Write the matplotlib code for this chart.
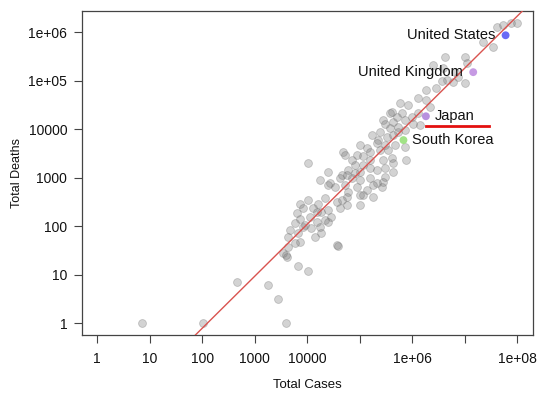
import numpy as np
import matplotlib
matplotlib.use("Agg")
import matplotlib.pyplot as plt

plt.rcParams['font.family'] = ['Liberation Sans', 'DejaVu Sans']

# log10 of total cases and total deaths per country
log_cases = [
    7.61, 7.73, 7.89, 7.99, 7.35, 7.54, 6.62, 7.00, 7.04, 6.40, 6.59, 6.81, 6.88, 6.66, 6.56,
    6.78, 7.00, 6.27, 6.46, 6.11, 6.27, 6.34, 5.77, 5.92, 5.61, 5.80, 5.99, 6.11, 5.45, 5.64,
    5.86, 6.02, 6.15, 5.58, 5.73, 5.38, 5.23, 5.58, 5.70, 5.48, 5.73, 5.86, 5.51, 5.64, 5.35,
    5.32, 5.48, 5.67, 5.86, 5.00, 5.13, 5.19, 5.38, 5.54, 5.89, 4.69, 4.94, 5.07, 5.19, 5.45,
    5.61, 5.64, 4.85, 4.91, 5.07, 5.19, 5.32, 5.48, 5.48, 5.64, 5.00, 4.78, 4.66, 4.85, 5.00,
    5.19, 5.32, 5.45, 4.40, 4.24, 4.43, 4.53, 4.72, 4.02, 4.72, 4.40, 4.62, 4.75, 4.91, 4.78,
    4.94, 5.07, 4.75, 5.26, 5.42, 4.56, 4.34, 4.21, 4.02, 3.86, 3.92, 4.11, 4.27, 4.40, 4.46,
    4.62, 4.75, 5.00, 3.80, 3.86, 4.05, 4.18, 4.34, 3.77, 3.92, 4.08, 4.24, 3.67, 3.83, 3.64,
    3.86, 3.77, 4.15, 3.64, 3.54, 4.56, 4.58, 3.61, 3.59, 5.00, 5.26, 5.13, 4.66, 4.18, 3.96,
    4.40, 4.27, 3.83, 4.02, 2.66, 3.25, 3.45, 3.59, 2.01, 0.85,
]
log_deaths = [
    6.10, 6.15, 6.19, 6.20, 5.81, 5.70, 5.50, 5.50, 5.36, 5.33, 5.26, 5.19, 5.08, 5.02, 5.00,
    4.98, 4.95, 4.81, 4.85, 4.64, 4.60, 4.47, 4.54, 4.50, 4.36, 4.33, 4.26, 4.33, 4.19, 4.16,
    4.19, 4.12, 4.09, 4.02, 3.95, 3.95, 3.88, 4.33, 4.26, 4.12, 4.05, 3.99, 3.85, 3.88, 3.78,
    3.71, 3.68, 3.68, 3.64, 3.68, 3.61, 3.54, 3.57, 3.57, 3.37, 3.54, 3.47, 3.44, 3.37, 3.37,
    3.40, 3.30, 3.37, 3.26, 3.26, 3.20, 3.16, 3.20, 3.02, 3.13, 3.13, 3.16, 3.06, 2.99, 2.95,
    2.99, 2.89, 2.92, 3.13, 2.95, 2.89, 2.82, 2.85, 3.30, 3.47, 2.85, 2.99, 3.06, 3.09, 2.71,
    2.82, 2.65, 2.61, 2.85, 2.82, 2.51, 2.58, 2.47, 2.54, 2.47, 2.37, 2.37, 2.30, 2.34, 2.20,
    2.37, 2.44, 2.65, 2.27, 2.16, 2.20, 2.09, 2.13, 2.06, 1.99, 1.96, 1.99, 1.92, 1.86, 1.79,
    1.68, 1.65, 1.79, 1.58, 1.44, 1.61, 1.60, 1.37, 1.40, 2.44, 2.61, 2.75, 2.54, 2.30, 2.03,
    2.09, 1.86, 1.18, 1.08, 0.86, 0.79, 0.50, 0.00, 0.00, 0.00,
]

highlight_names = ["United States", "United Kingdom", "Japan", "South Korea"]
highlight_cases = [6.0e7, 1.45e7, 1.82e6, 6.8e5]
highlight_deaths = [8.7e5, 1.51e5, 1.86e4, 6.0e3]
highlight_colors = ["#5a5af5", "#c08fe0", "#b184dc", "#98e07a"]
label_side = ["left", "left", "right", "right"]

# red underline under the Japan label
underline_cases = [1.82e6, 2.9e7]
underline_deaths = 1.18e4

x_ticks = [1, 10, 100, 1000, 10000, 1e5, 1e6, 1e7, 1e8]
x_tick_labels = ["1", "10", "100", "1000", "10000", "", "1e+06", "", "1e+08"]
y_ticks = [1, 10, 100, 1000, 10000, 1e5, 1e6]
y_tick_labels = ["1", "10", "100", "1000", "10000", "1e+05", "1e+06"]

cases = 10 ** np.array(log_cases)
deaths = 10 ** np.array(log_deaths)

fig = plt.figure(figsize=(5.39, 3.94), dpi=100)
ax = fig.add_axes([0.1516, 0.1497, 0.8367, 0.8223])

ax.scatter(cases, deaths, s=32, color="#7a7a7a", alpha=0.33, edgecolors="#666666",
           linewidths=0.6, zorder=2)

# regression line on log-log scale
all_lx = np.concatenate([log_cases, np.log10(highlight_cases)])
all_ly = np.concatenate([log_deaths, np.log10(highlight_deaths)])
slope, intercept = np.polyfit(all_lx, all_ly, 1)
ax.axline((10 ** 2, 10 ** (slope * 2 + intercept)), (10 ** 8, 10 ** (slope * 8 + intercept)),
          color="#d9534f", lw=1.0, zorder=3)

for name, cx, dy, col, side in zip(highlight_names, highlight_cases, highlight_deaths,
                                   highlight_colors, label_side):
    ax.scatter([cx], [dy], s=32, color=col, alpha=0.9, edgecolors="none", zorder=4)
    if side == "left":
        ax.annotate(name, (cx, dy), xytext=(-7.5, 0), textcoords="offset points",
                    ha="right", va="center", fontsize=10.5, color="#111111", zorder=5)
    else:
        ax.annotate(name, (cx, dy), xytext=(6.5, 0), textcoords="offset points",
                    ha="left", va="center", fontsize=10.5, color="#111111", zorder=5)

ax.plot(underline_cases, [underline_deaths, underline_deaths], color="#e3100f", lw=2.0,
        zorder=5)

ax.set_xscale("log")
ax.set_yscale("log")
ax.set_xlim(0.505, 1.97e8)
ax.set_ylim(0.574, 2.75e6)
ax.minorticks_off()
ax.set_xticks(x_ticks)
ax.set_xticklabels(x_tick_labels)
ax.set_yticks(y_ticks)
ax.set_yticklabels(y_tick_labels)
ax.tick_params(axis="both", labelsize=10, length=5.5, width=0.8, color="#444444",
               labelcolor="#111111")
ax.tick_params(axis="x", pad=7)
ax.tick_params(axis="y", pad=5)

for sp in ax.spines.values():
    sp.set_color("#444444")
    sp.set_linewidth(0.9)

ax.set_xlabel("Total Cases", fontsize=9.5, labelpad=9, color="#111111")
ax.set_ylabel("Total Deaths", fontsize=9, labelpad=4, color="#111111")

fig.savefig("out.png", dpi=100)
